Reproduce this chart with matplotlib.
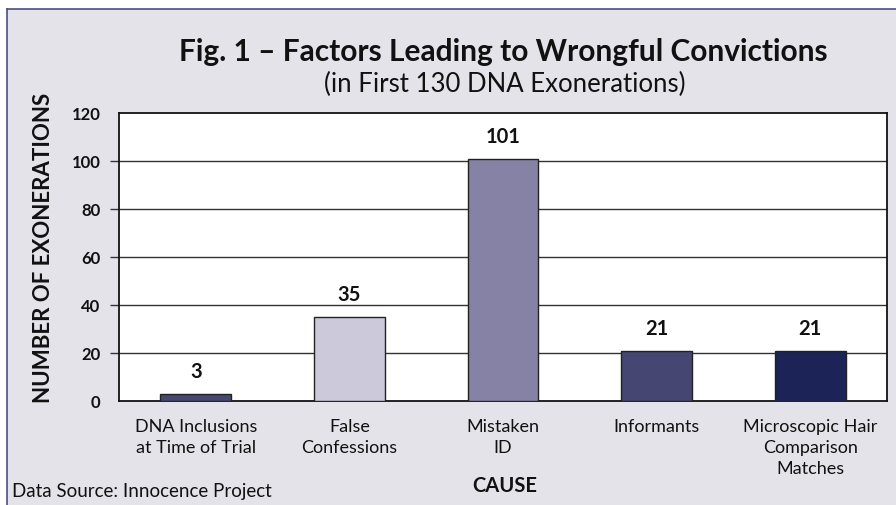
import matplotlib
matplotlib.use("Agg")
import matplotlib.pyplot as plt
from matplotlib.patches import Rectangle
from matplotlib.lines import Line2D

categories = ["DNA Inclusions\nat Time of Trial", "False\nConfessions", "Mistaken\nID",
              "Informants", "Microscopic Hair\nComparison\nMatches"]
values = [3, 35, 101, 21, 21]
bar_colors = ["#464872", "#CCC9DB", "#8682A5", "#454672", "#1C2356"]
yticks = [0, 20, 40, 60, 80, 100, 120]

plt.rcParams['font.family'] = ['Lato', 'DejaVu Sans']

W, H = 896, 506
fig = plt.figure(figsize=(W/100, H/100), dpi=100)
fig.patch.set_facecolor("white")

bg = "#E5E3EA"
fig.patches.append(Rectangle((7/W, 0), 1, 1 - 10/H, transform=fig.transFigure,
                             facecolor=bg, edgecolor="none", zorder=-5))
fig.lines.append(Line2D([7/W, 1], [1 - 10/H, 1 - 10/H], transform=fig.transFigure,
                        color="#4B5080", lw=1.2, zorder=-4))
fig.lines.append(Line2D([7/W, 7/W], [0, 1 - 10/H], transform=fig.transFigure,
                        color="#4B5080", lw=1.2, zorder=-4))

ax = fig.add_axes([119/W, 1 - 402/H, (887-119)/W, (402-114)/H])
ax.set_zorder(2)
ax.set_facecolor("white")
x = range(len(categories))
ax.bar(x, values, width=0.46, color=bar_colors, edgecolor="#222222", linewidth=1.0, zorder=3)
ax.set_xlim(-0.5, len(categories) - 0.5)
ax.set_ylim(0, 120)
ax.set_yticks(yticks)
ax.set_yticklabels([str(t) for t in yticks], fontsize=12, fontweight="bold", color="#111111")
ax.tick_params(axis="y", length=6.5, width=1, pad=7, color="#333333")
ax.yaxis.get_major_ticks()[0].tick1line.set_visible(False)
ax.yaxis.get_major_ticks()[-1].tick1line.set_visible(False)
ax.set_xticks(list(x))
ax.set_xticklabels(categories, fontsize=13, color="#111111", linespacing=1.4)
ax.tick_params(axis="x", length=0, pad=12)
for t in yticks[1:-1]:
    ax.axhline(t, color="#333333", lw=1.0, zorder=1)
for s in ax.spines.values():
    s.set_color("#111111")
    s.set_linewidth(1.3)

for i, v in enumerate(values):
    ax.annotate(str(v), (i, v), xytext=(0, 9), textcoords="offset points",
                ha="center", va="bottom", fontsize=14.5, fontweight="bold", color="#111111")

fig.text(503/W, 1 - 52/H, "Fig. 1 \u2013 Factors Leading to Wrongful Convictions",
         ha="center", va="center", fontsize=21.5, fontweight="bold", color="#111111")
fig.text(505/W, 1 - 84/H, "(in First 130 DNA Exonerations)",
         ha="center", va="center", fontsize=18.5, color="#111111")
fig.text(43/W, 1 - 248/H, "NUMBER OF EXONERATIONS", rotation=90,
         ha="center", va="center", fontsize=16, fontweight="bold", color="#111111")
fig.text(505/W, 1 - 486/H, "CAUSE", ha="center", va="center",
         fontsize=14.5, fontweight="bold", color="#111111")
fig.text(12/W, 1 - 492/H, "Data Source: Innocence Project", ha="left", va="center",
         fontsize=13.5, color="#111111")

fig.savefig("out.png", dpi=100)
